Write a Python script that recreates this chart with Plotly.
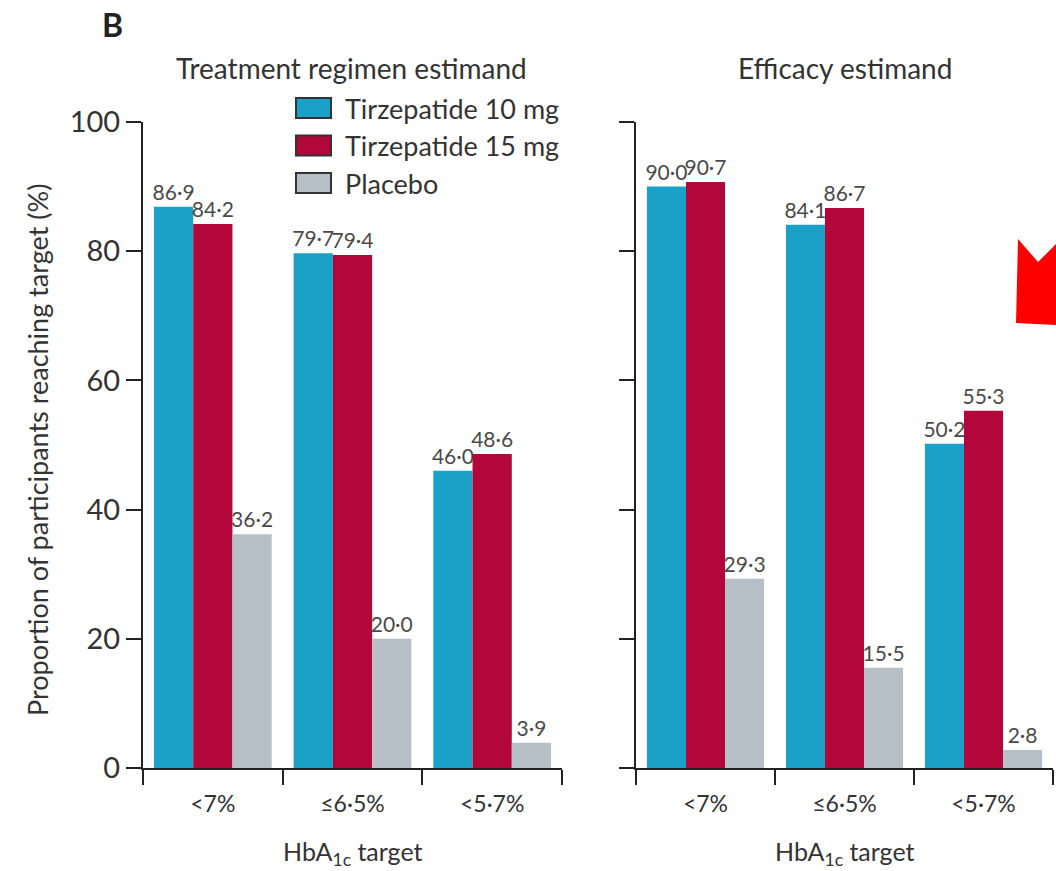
import plotly.graph_objects as go

# HbA1c targets and proportions (%) reaching them
categories = ["<7%", "≤6·5%", "<5·7%"]
series_names = ["Tirzepatide 10 mg", "Tirzepatide 15 mg", "Placebo"]
colors = ["#1ba0c7", "#b3063a", "#b6bfc6"]

treatment_10mg = [86.9, 79.7, 46.0]
treatment_15mg = [84.2, 79.4, 48.6]
treatment_placebo = [36.2, 20.0, 3.9]

efficacy_10mg = [90.0, 84.1, 50.2]
efficacy_15mg = [90.7, 86.7, 55.3]
efficacy_placebo = [29.3, 15.5, 2.8]

panels = [
    ("Treatment regimen estimand", [treatment_10mg, treatment_15mg, treatment_placebo]),
    ("Efficacy estimand", [efficacy_10mg, efficacy_15mg, efficacy_placebo]),
]

FONT = "Lato, 'Open Sans', sans-serif"
TXT = "#333333"
W, H = 1056, 871


def fmt(v):
    # Lancet style decimal point
    return f"{v:.1f}".replace(".", "·")


def px(x):
    return x / W


def py(y):
    return 1 - y / H


def label(x, y, text, size, **kw):
    fig.add_annotation(x=px(x), y=py(y), xref="paper", yref="paper", text=text,
                       showarrow=False, xanchor=kw.pop("xanchor", "center"),
                       yanchor="middle", font=dict(size=size, color=kw.pop("color", TXT)),
                       **kw)


fig = go.Figure()

for p, (title, values) in enumerate(panels):
    xa = "x" if p == 0 else "x2"
    ya = "y" if p == 0 else "y2"
    for name, vals, col in zip(series_names, values, colors):
        fig.add_trace(go.Bar(
            x=categories, y=vals, name=name,
            marker=dict(color=col, line=dict(width=0)),
            text=[fmt(v) for v in vals], textposition="outside",
            textfont=dict(size=21, color="#4a4a4a", family=FONT),
            constraintext="none",
            cliponaxis=False, showlegend=False,
            xaxis=xa, yaxis=ya,
        ))

axis_common = dict(showline=True, linewidth=2, linecolor="#222222",
                   ticks="outside", ticklen=15, tickwidth=2, tickcolor="#222222",
                   showgrid=False, zeroline=False, automargin=False)

fig.update_layout(
    width=W, height=H,
    margin=dict(l=0, r=0, t=0, b=0),
    plot_bgcolor="white", paper_bgcolor="white",
    font=dict(family=FONT, color=TXT),
    barmode="group", bargap=0.157, bargroupgap=0,
    showlegend=False,
    xaxis=dict(domain=[px(143), px(562)], type="category", tickson="boundaries",
               tickfont=dict(size=23, color=TXT), ticklabelstandoff=14, anchor="y",
               **axis_common),
    yaxis=dict(domain=[py(768), py(122)], range=[0, 100], dtick=20,
               tickfont=dict(size=29, color=TXT), anchor="x", **axis_common),
    xaxis2=dict(domain=[px(636), px(1053)], type="category", tickson="boundaries",
                tickfont=dict(size=23, color=TXT), ticklabelstandoff=14, anchor="y2",
                **axis_common),
    yaxis2=dict(domain=[py(768), py(122)], range=[0, 100], dtick=20,
                showticklabels=False, anchor="x2", **axis_common),
)

# panel label, subplot titles and axis titles
label(112, 25, "<b>B</b>", 32, color="#222222")
label(351, 68, panels[0][0], 28)
label(845, 68, panels[1][0], 28)
label(353, 853, "HbA<sub>1c</sub> target", 25)
label(845, 853, "HbA<sub>1c</sub> target", 25)
label(38, 450, "Proportion of participants reaching target (%)", 27, textangle=-90)

# legend drawn by hand to get the large outlined swatches
for i, (name, col) in enumerate(zip(series_names, colors)):
    top = 98 + i * 37.5
    fig.add_shape(type="rect", xref="paper", yref="paper",
                  x0=px(296), x1=px(331), y0=py(top), y1=py(top + 20),
                  fillcolor=col, line=dict(color="#333333", width=2))
    label(343, top + 10, name, 27, xanchor="left")

# red arrow head cut off at the right edge
fig.add_shape(type="path", xref="paper", yref="paper",
              path=(f"M {px(1018)},{py(239)} L {px(1038)},{py(262)} L {px(1056)},{py(244)} "
                    f"L {px(1056)},{py(325)} L {px(1016)},{py(323)} Z"),
              fillcolor="#ff0000", line=dict(width=0))

# drop the default page margin so the figure fills the window
fig.write_html("out.html", config={"displayModeBar": False},
               post_script="document.body.style.margin = '0';")
